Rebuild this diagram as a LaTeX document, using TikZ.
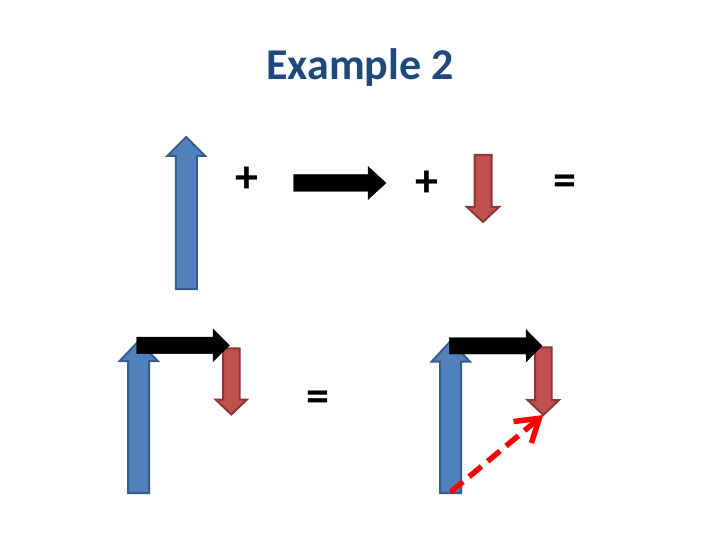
\documentclass[tikz,border=0pt]{standalone}
\usepackage{fontspec}
\setmainfont{Carlito}
\usetikzlibrary{arrows.meta}
\definecolor{titleblue}{HTML}{1F497D}
\definecolor{vecblue}{HTML}{4F81BD}
\definecolor{vecblueline}{HTML}{385D8A}
\definecolor{vecred}{HTML}{C0504D}
\definecolor{vecredline}{HTML}{8C3836}
\tikzstyle{bluevec} = [fill=vecblue, draw=vecblueline, line width=2pt]
\tikzstyle{redvec} = [fill=vecred, draw=vecredline, line width=2pt]
\tikzstyle{blackvec} = [fill=black]
\tikzstyle{sign} = [font=\fontsize{46}{52}\selectfont\bfseries, inner sep=0pt]
\tikzstyle{resultant} = [red, line width=5.5pt, dash pattern=on 16pt off 8pt, -{Straight Barb[length=22pt,width=28pt]}]

\begin{document}
\begin{tikzpicture}[x=1pt, y=-1pt]
\useasboundingbox (0,0) rectangle (720,540);

\node (title) at (360,68) [text=titleblue, font=\fontsize{44}{52}\selectfont\bfseries] {Example 2};

% first row: the three vectors
\draw [bluevec] (175.8,289) -- (175.8,156) -- (167.3,156) -- (186.3,137) -- (205.3,156) -- (196.8,156) -- (196.8,289) -- cycle;
\node (plusA) at (246.5,180) [sign] {+};
\draw [blackvec] (293.5,174.5) -- (368,174.5) -- (368,166.5) -- (386,183) -- (368,199.5) -- (368,191.5) -- (293.5,191.5) -- cycle;
\node (plusB) at (427,184) [sign] {+};
\draw [redvec] (474.5,155) -- (491.5,155) -- (491.5,207) -- (499,207) -- (483,222) -- (467,207) -- (474.5,207) -- cycle;
\node (eqA) at (565,185.5) [sign] {=};

% second row: tip to tail
\draw [bluevec] (128.2,493) -- (128.2,361) -- (119.7,361) -- (138.7,341) -- (157.7,361) -- (149.2,361) -- (149.2,493) -- cycle;
\draw [redvec] (223,348.3) -- (239.6,348.3) -- (239.6,399.5) -- (247,399.5) -- (231.3,414.5) -- (215.6,399.5) -- (223,399.5) -- cycle;
\draw [blackvec] (136.7,337) -- (213,337) -- (213,329) -- (229.5,345.3) -- (213,361.6) -- (213,353.6) -- (136.7,353.6) -- cycle;
\node (eqB) at (318,401.5) [sign] {=};

% resultant
\coordinate (bluebase) at (450.7,492);
\coordinate (redtip) at (543.3,415);
\draw [bluevec] (440.2,493) -- (440.2,361.5) -- (431.7,361.5) -- (450.7,341) -- (469.7,361.5) -- (461.2,361.5) -- (461.2,493) -- cycle;
\draw [redvec] (535,347.3) -- (551.6,347.3) -- (551.6,400) -- (559,400) -- (543.3,415) -- (527.6,400) -- (535,400) -- cycle;
\draw [blackvec] (449.3,337.5) -- (526,337.5) -- (526,329.5) -- (542,345.8) -- (526,362) -- (526,354) -- (449.3,354) -- cycle;
\draw [resultant] (bluebase) -- (redtip);

\end{tikzpicture}
\end{document}
